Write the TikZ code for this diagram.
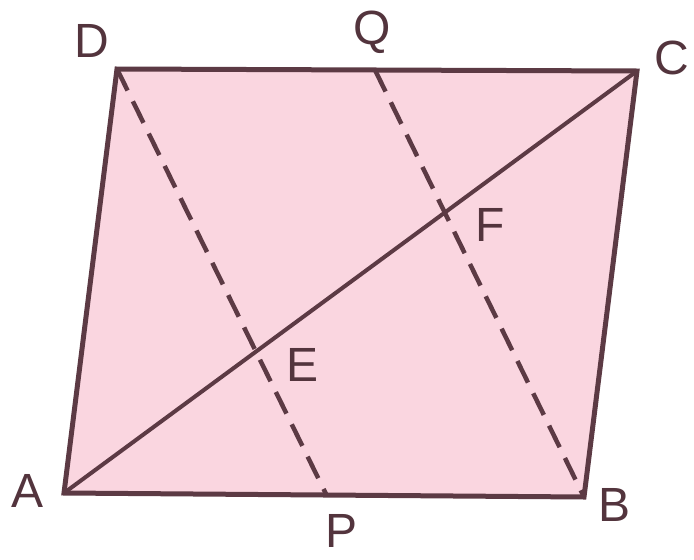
\documentclass[tikz,border=0pt]{standalone}
\usepackage{fontspec}
\setmainfont{Liberation Sans}
\usetikzlibrary{intersections}
\definecolor{fillpink}{RGB}{250,214,224}
\definecolor{edge}{RGB}{92,58,68}
\begin{document}
\begin{tikzpicture}[x=1pt,y=-1pt,
  side/.style={draw=edge,line width=5pt,line join=miter},
  diag/.style={draw=edge,line width=4pt},
  dashline/.style={draw=edge,line width=4.5pt,dash pattern=on 24pt off 12pt},
  lbl/.style={font=\fontsize{48}{50}\selectfont,text=edge!90!black,inner sep=0pt}]
\useasboundingbox (0,0) rectangle (694,560);
\coordinate (A) at (64,493);
\coordinate (B) at (584,497);
\coordinate (C) at (637,71);
\coordinate (D) at (117,69);
\coordinate (P) at (327,496);
\coordinate (Q) at (375,70);
\fill[fillpink] (A) -- (B) -- (C) -- (D) -- cycle;
\path[name path=ac] (A) -- (C);
\path[name path=dp] (D) -- (P);
\path[name path=qb] (Q) -- (B);
\path[name intersections={of=ac and dp,by=E}];
\path[name intersections={of=ac and qb,by=F}];
\draw[dashline] (D) -- (P);
\draw[dashline] (Q) -- (B);
\draw[diag] (A) -- (C);
\draw[side] (A) -- (B) -- (C) -- (D) -- cycle;
\node[lbl] (lA) at (28,491) {A};
\node[lbl] (lB) at (615,505) {B};
\node[lbl] (lC) at (672,58) {C};
\node[lbl] (lD) at (92,41) {D};
\node[lbl] (lQ) at (372,32) {Q};
\node[lbl] (lP) at (342,531) {P};
\node[lbl] (lE) at (303,365) {E};
\node[lbl] (lF) at (490,225) {F};
\end{tikzpicture}
\end{document}
